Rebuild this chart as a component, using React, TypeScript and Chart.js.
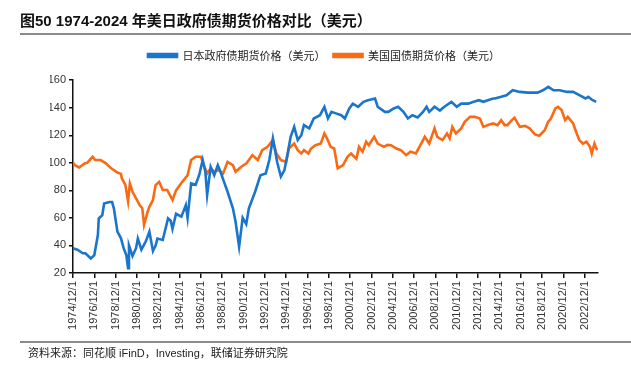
import React, { useEffect, useRef } from "react";
import { Chart, registerables } from "chart.js";

Chart.register(...registerables);

const TITLE = "图50 1974-2024 年美日政府债期货价格对比（美元）";
const SOURCE = "资料来源：同花顺 iFinD，Investing，联储证券研究院";
const JP_LABEL = "日本政府债期货价格（美元）";
const US_LABEL = "美国国债期货价格（美元）";

const TICK_LABELS = [
  "1974/12/1", "1976/12/1", "1978/12/1", "1980/12/1", "1982/12/1", "1984/12/1",
  "1986/12/1", "1988/12/1", "1990/12/1", "1992/12/1", "1994/12/1", "1996/12/1",
  "1998/12/1", "2000/12/1", "2002/12/1", "2004/12/1", "2006/12/1", "2008/12/1",
  "2010/12/1", "2012/12/1", "2014/12/1", "2016/12/1", "2018/12/1", "2020/12/1",
  "2022/12/1",
];

const X_MIN = "1974-12";
const X_MAX = "2024-03";

const JP_DATES = [
  "1974-12", "1975-05", "1975-11", "1976-02", "1976-08", "1976-12", "1977-04", "1977-05",
  "1977-09", "1977-11", "1978-05", "1978-08", "1978-10", "1979-02", "1979-06", "1979-09",
  "1979-12", "1980-02", "1980-03", "1980-07", "1980-11", "1981-01", "1981-05", "1981-10",
  "1982-02", "1982-06", "1982-09", "1982-11", "1983-05", "1983-11", "1984-02", "1984-04",
  "1984-08", "1985-02", "1985-07", "1985-09", "1986-01", "1986-06", "1986-10", "1987-02",
  "1987-05", "1987-07", "1987-11", "1988-03", "1988-07", "1988-10", "1989-02", "1989-06",
  "1989-12", "1990-03", "1990-07", "1990-11", "1991-03", "1991-06", "1992-01", "1992-04",
  "1992-07", "1993-01", "1993-05", "1993-09", "1994-02", "1994-06", "1994-10", "1995-02",
  "1995-05", "1995-09", "1996-01", "1996-05", "1996-08", "1997-02", "1997-07", "1998-02",
  "1998-07", "1998-11", "1999-03", "1999-08", "2000-02", "2000-06", "2000-11", "2001-03",
  "2001-09", "2002-03", "2002-08", "2003-04", "2003-07", "2004-03", "2004-07", "2005-01",
  "2005-06", "2005-12", "2006-05", "2006-10", "2007-04", "2007-10", "2008-02", "2008-05",
  "2008-11", "2009-05", "2009-10", "2010-06", "2010-12", "2011-05", "2012-01", "2012-07",
  "2013-01", "2013-06", "2013-11", "2014-05", "2014-07", "2015-02", "2015-08", "2016-03",
  "2016-11", "2017-08", "2018-07", "2019-01", "2019-07", "2020-01", "2020-08", "2021-04",
  "2021-11", "2022-06", "2023-01", "2023-04", "2023-09", "2024-01",
];
const JP_VALUES = [
  37.9, 36.9, 34.3, 34.3, 30.6, 33, 47.6, 59.6,
  62, 70.5, 71.6, 71.6, 67, 50, 45.2, 38,
  33, 23.4, 40, 32.4, 38, 45, 37, 43,
  50, 36, 40, 45, 44, 59.7, 58, 52,
  63, 60.9, 69.3, 60, 85, 84, 91, 102,
  93.5, 76.6, 97, 91, 98.3, 93.5, 86.2, 79,
  67, 57.2, 39.1, 60, 55.4, 67, 79, 85,
  91, 92.3, 102, 117.7, 100, 90, 94.7, 108,
  118.9, 126.1, 116.5, 120, 127.4, 125, 132.2, 134.6,
  140.7, 132.2, 137, 135.9, 134.6, 132.2, 139.5, 143,
  140.7, 144.3, 145.5, 146.7, 140.7, 137, 137, 139.5,
  140.7, 137, 132.2, 134.6, 133, 137, 140.7, 137,
  140.7, 138, 140.7, 144.3, 140.7, 143, 143, 144.3,
  145.5, 144.3, 145.5, 146.7, 146.7, 147.9, 149.1, 152.7,
  151.5, 151, 151, 152.7, 155.2, 152.7, 152.7, 151.5,
  151.5, 149.1, 146.7, 147.9, 145.5, 144.3,
];

const US_DATES = [
  "1974-12", "1975-02", "1975-07", "1976-01", "1976-04", "1976-10", "1977-01", "1977-07",
  "1978-01", "1978-07", "1979-02", "1979-06", "1979-07", "1979-11", "1980-02", "1980-04",
  "1980-07", "1980-11", "1981-03", "1981-06", "1981-08", "1981-12", "1982-02", "1982-06",
  "1982-09", "1983-01", "1983-05", "1983-10", "1984-02", "1984-04", "1984-08", "1985-03",
  "1985-09", "1986-01", "1986-06", "1986-12", "1987-04", "1987-07", "1987-11", "1988-03",
  "1988-08", "1989-01", "1989-06", "1989-12", "1990-03", "1990-09", "1991-03", "1991-10",
  "1992-04", "1992-09", "1993-03", "1993-09", "1994-01", "1994-06", "1994-12", "1995-03",
  "1995-09", "1996-01", "1996-05", "1996-08", "1997-01", "1997-04", "1997-09", "1998-03",
  "1998-07", "1998-10", "1999-02", "1999-06", "1999-10", "2000-04", "2000-09", "2001-01",
  "2001-07", "2001-10", "2002-02", "2002-06", "2002-09", "2003-03", "2003-07", "2004-02",
  "2004-06", "2004-10", "2005-04", "2005-09", "2006-03", "2006-08", "2007-02", "2007-08",
  "2007-12", "2008-05", "2008-11", "2009-02", "2009-08", "2010-01", "2010-04", "2010-07",
  "2010-11", "2011-05", "2011-09", "2012-03", "2012-08", "2013-02", "2013-06", "2013-11",
  "2014-05", "2014-10", "2015-02", "2015-06", "2015-09", "2016-02", "2016-05", "2016-11",
  "2017-05", "2017-10", "2018-04", "2018-09", "2019-03", "2019-07", "2019-10", "2020-03",
  "2020-06", "2020-10", "2021-02", "2021-05", "2021-11", "2022-03", "2022-06", "2022-10",
  "2023-02", "2023-06", "2023-08", "2023-11", "2024-02",
];
const US_VALUES = [
  100.3, 98.3, 96.6, 99.6, 100, 104.4, 102, 102,
  99.6, 96, 93, 92, 88.7, 83.8, 72, 85,
  79, 74.2, 69.3, 67, 55, 64.5, 68, 73,
  83.8, 86.2, 80.3, 80.3, 75.4, 73, 80, 86.2,
  91, 102, 104.4, 104.4, 97, 92.3, 96, 93.5,
  94.7, 92.3, 100.7, 98.3, 93.5, 97, 99.5, 105.6,
  102, 109.2, 111.6, 116.5, 106.8, 102, 100.7, 110.4,
  114, 109.2, 106.8, 109.2, 106.8, 110.4, 112.8, 114,
  121.3, 117.7, 111.6, 110.4, 96, 98.3, 104.4, 106.8,
  103, 111.6, 108, 115.3, 112.8, 118.9, 114, 111.6,
  113, 112.8, 110.4, 109.2, 105.6, 108, 106.8, 114,
  118.9, 114, 125, 118.9, 116.5, 121.3, 117.7, 126.1,
  121.3, 125, 129.8, 133.4, 133.4, 132.2, 126.1, 127.4,
  128.6, 127.4, 131, 127.4, 127.4, 131, 132.7, 126.1,
  126.8, 125, 120.6, 119.7, 123.7, 129.8, 132.2, 139.5,
  140.7, 138.3, 131, 133.4, 128.6, 121.3, 116.5, 114,
  115.3, 111.6, 106.8, 114, 109.2,
];

const BLUE = "#1a75cc";
const ORANGE = "#fa6a14";

const monthToYear = (d: string) => {
  const [y, m] = d.split("-").map(Number);
  return y + (m - 1) / 12;
};
const tickToYear = (t: string) => {
  const [y, m] = t.split("/").map(Number);
  return y + (m - 1) / 12;
};

const FONT_FAMILY = '"Liberation Sans", Arial, "Noto Sans CJK SC", sans-serif';

export default function App() {
  const ref = useRef<HTMLCanvasElement | null>(null);

  useEffect(() => {
    if (!ref.current) return;
    const chart = new Chart(ref.current, {
      type: "line",
      data: {
        datasets: [
          {
            label: JP_LABEL,
            data: JP_DATES.map((d, i) => ({ x: monthToYear(d), y: JP_VALUES[i] })),
            borderColor: BLUE,
            backgroundColor: BLUE,
            borderWidth: 2.6,
            pointRadius: 0,
            tension: 0,
          },
          {
            label: US_LABEL,
            data: US_DATES.map((d, i) => ({ x: monthToYear(d), y: US_VALUES[i] })),
            borderColor: ORANGE,
            backgroundColor: ORANGE,
            borderWidth: 2.6,
            pointRadius: 0,
            tension: 0,
          },
        ],
      },
      options: {
        animation: false,
        responsive: false,
        maintainAspectRatio: false,
        layout: { padding: { top: 42, right: 33, bottom: 0, left: 50 } },
        plugins: {
          tooltip: { enabled: false },
          legend: {
            display: true,
            position: "top",
            labels: {
              boxWidth: 29,
              boxHeight: 3,
              padding: 8,
              color: "#222",
              font: { size: 11, family: '"Noto Sans CJK SC", sans-serif' },
            },
          },
          subtitle: {
            display: true,
            text: " ",
            position: "top",
            weight: 500,
            font: { size: 1 },
            padding: { top: 4, bottom: 4 },
          } as any,
        },
        scales: {
          x: {
            type: "linear",
            min: monthToYear(X_MIN),
            max: monthToYear(X_MAX),
            afterBuildTicks: (axis: any) => {
              axis.ticks = TICK_LABELS.map((t) => ({ value: tickToYear(t) }));
            },
            afterFit: (s: any) => {
              s.height = 96;
            },
            ticks: {
              autoSkip: false,
              maxRotation: 90,
              minRotation: 90,
              padding: 3,
              color: "#333",
              font: { size: 11, family: FONT_FAMILY },
              callback: (_v: any, i: number) => TICK_LABELS[i],
            },
            grid: { drawOnChartArea: false, tickLength: 5, color: "#111", lineWidth: 1.5 },
            border: { color: "#111", width: 1.5 },
          },
          y: {
            min: 20,
            max: 160,
            afterFit: (s: any) => {
              s.width = 23;
            },
            ticks: {
              stepSize: 20,
              padding: 3,
              color: "#333",
              font: { size: 11, family: FONT_FAMILY },
            },
            grid: { drawOnChartArea: false, tickLength: 4, color: "#111", lineWidth: 1.5 },
            border: { color: "#111", width: 1.5 },
          },
        },
      },
    });
    return () => chart.destroy();
  }, []);

  return (
    <div style={{ position: "fixed", left: 0, top: 0, width: 631, height: 369, background: "#fff" }}>
      <canvas ref={ref} width={631} height={369} style={{ position: "absolute", left: 0, top: 0, width: 631, height: 369 }} />
      <div
        style={{
          position: "absolute",
          left: 20,
          top: 11,
          fontSize: 15,
          lineHeight: "20px",
          fontWeight: "bold",
          color: "#111",
          fontFamily: '"Liberation Sans", Arial, "Noto Sans CJK SC", sans-serif',
          whiteSpace: "nowrap",
        }}
      >
        {TITLE}
      </div>
      <div style={{ position: "absolute", left: 20, top: 33, width: 611, height: 2, background: "#8a8a8a" }} />
      <div style={{ position: "absolute", left: 20, top: 341, width: 611, height: 2, background: "#8a8a8a" }} />
      <div
        style={{
          position: "absolute",
          left: 28,
          top: 346,
          fontSize: 11,
          lineHeight: "15px",
          color: "#222",
          fontFamily: '"Liberation Sans", Arial, "Noto Sans CJK SC", sans-serif',
          whiteSpace: "nowrap",
        }}
      >
        {SOURCE}
      </div>
    </div>
  );
}
